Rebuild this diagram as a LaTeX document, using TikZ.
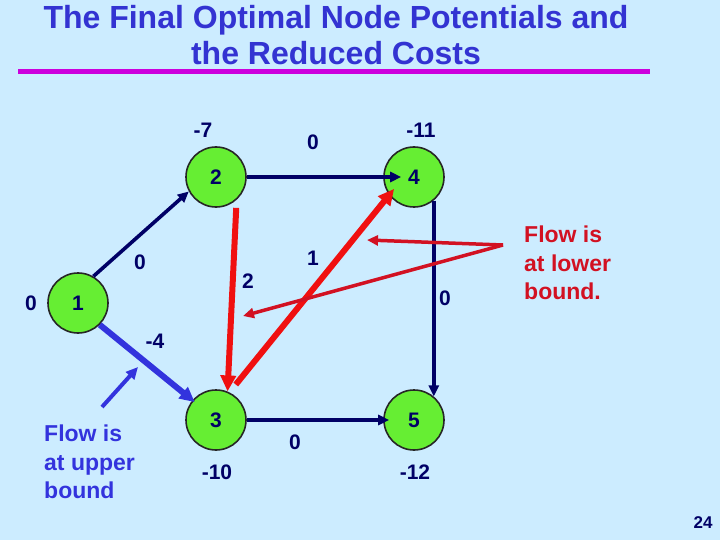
\documentclass[tikz,border=0pt]{standalone}
\usepackage{fontspec}
\setmainfont{Liberation Sans}
\usetikzlibrary{arrows.meta}
\definecolor{bg}{RGB}{204,236,255}
\definecolor{nodegreen}{RGB}{102,238,51}
\definecolor{navy}{RGB}{0,0,102}
\definecolor{arcblue}{RGB}{51,51,221}
\definecolor{titleblue}{RGB}{51,51,210}
\definecolor{magline}{RGB}{204,0,221}
\definecolor{arcred}{RGB}{240,16,16}
\definecolor{notered}{RGB}{210,17,34}
\begin{document}
\begin{tikzpicture}[x=1pt,y=-1pt,
  netnode/.style={circle,draw=black!85,line width=1.6pt,fill=nodegreen,minimum size=60pt,inner sep=0pt,font=\fontsize{21}{21}\selectfont\bfseries,text=navy},
  lbl/.style={font=\fontsize{21}{21}\selectfont\bfseries,text=navy,inner sep=0pt},
  titletext/.style={font=\fontsize{32}{36}\selectfont\bfseries,text=titleblue,inner sep=0pt,anchor=base},
  notetext/.style={font=\fontsize{23}{28.5}\selectfont\bfseries,align=left,inner sep=0pt,anchor=west},
  navyarc/.style={draw=navy,line width=3.6pt,-{Triangle[length=11pt,width=10pt]}},
  redarc/.style={draw=arcred,line width=6pt,-{Triangle[length=16pt,width=15pt]}},
  bluearc/.style={draw=arcblue,line width=6pt,-{Triangle[length=15pt,width=14pt]}},
  rednote/.style={draw=notered,line width=3.5pt,-{Triangle[length=11pt,width=10pt]}},
  bluenote/.style={draw=arcblue,line width=4pt,-{Triangle[length=12pt,width=11pt]}}
]
\fill[bg] (0,0) rectangle (720,540);
\useasboundingbox (0,0) rectangle (720,540);

% title
\node[titletext] (t1) at (336,29) {The Final Optimal Node Potentials and};
\node[titletext] (t2) at (336,65) {the Reduced Costs};
\draw[magline,line width=5pt] (18,71.5) -- (650,71.5);

% nodes
\node[netnode] (n1) at (78,303) {1};
\node[netnode] (n2) at (216,177) {2};
\node[netnode] (n3) at (216,420) {3};
\node[netnode] (n4) at (414,177) {4};
\node[netnode] (n5) at (414,420) {5};

% navy and blue arcs
\draw[navyarc,shorten >=-18pt] (n2.east) -- (n4.west);
\draw[navyarc] (n1.60) -- (n2.208);
\draw[navyarc] (n4.-50) -- (n5.50);
\draw[navyarc,shorten >=-6pt] (n3.east) -- (n5.west);
\draw[bluearc,shorten >=-3pt] (n1.-45) -- (n3.140);

% red arcs
\draw[redarc,shorten <=8pt] (n2.-48) -- (n3.68);
\draw[redarc,shorten <=10pt,shorten >=-8pt] (n3.64) -- (n4.216);

% potentials
\node[lbl] (p1) at (31,303) {0};
\node[lbl] (p2) at (203,130) {-7};
\node[lbl] (p4) at (421,130) {-11};
\node[lbl] (p3) at (217,472) {-10};
\node[lbl] (p5) at (415,472) {-12};

% reduced costs
\node[lbl] (c24) at (313,142) {0};
\node[lbl] (c12) at (140,262) {0};
\node[lbl] (c23) at (248,281) {2};
\node[lbl] (c34) at (313,258) {1};
\node[lbl] (c45) at (445,298) {0};
\node[lbl] (c13) at (155,341) {-4};
\node[lbl] (c35) at (295,442) {0};

% annotations
\node[notetext,text=notered] (lowtxt) at (524,263) {Flow is\\at lower\\bound.};
\coordinate (lowsrc) at (503,245);
\coordinate (lowtip1) at (367,240);
\coordinate (lowtip2) at (243,316);
\draw[rednote] (lowsrc) -- (lowtip1);
\draw[rednote] (lowsrc) -- (lowtip2);

\node[notetext,text=arcblue] (uptxt) at (44,462) {Flow is\\at upper\\bound};
\coordinate (upsrc) at (102,407);
\coordinate (uptip) at (138,367);
\draw[bluenote] (upsrc) -- (uptip);

% page number
\node[font=\fontsize{17}{17}\selectfont\bfseries,text=navy,inner sep=0pt] (pg) at (703,523) {24};
\end{tikzpicture}
\end{document}
